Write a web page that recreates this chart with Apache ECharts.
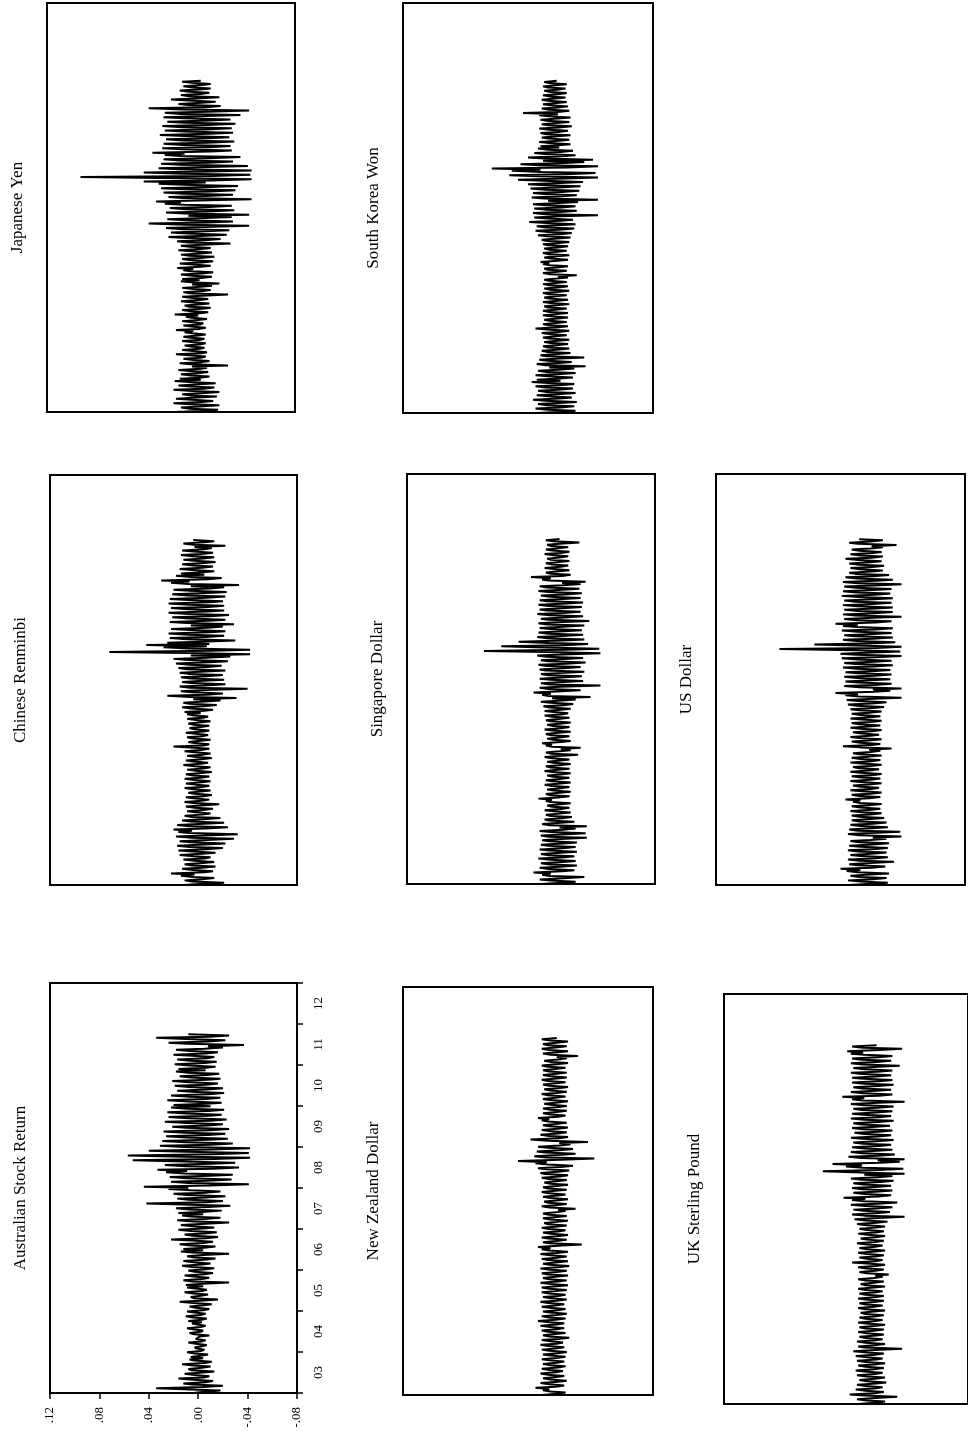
<!DOCTYPE html>
<html><head><meta charset="utf-8">
<script src="https://cdn.jsdelivr.net/npm/echarts/dist/echarts.min.js"></script>
<style>html,body{margin:0;padding:0;background:#fff}#c{width:968px;height:1437px}</style>
</head><body><div id="c"></div>
<script>
// time-axis tick labels (years) and observation span
const yearLabels = ['03','04','05','06','07','08','09','10','11','12'];
const obsStart = 2003.0;
const obsEnd = 2011.75;

// return series, start -> end
const jpy = [
.017,-.004,-.018,.005,.012,-.003,-.019,.004,.018,-.005,-.014,.003,.016,-.002,-.017,.005,.011,-.004,-.019,.003,.018,-.006,-.015,.004,.014,-.003,-.016,.005,.017,-.004,
.013,-.003,-.011,.004,.012,-.002,-.01,.005,.014,-.004,-.009,.003,-.026,.004,.013,-.005,-.011,.002,.01,-.004,-.008,.003,.016,-.004,-.009,.002,.011,-.003,-.007,.004,
.009,-.003,-.008,.002,.011,-.003,-.007,.004,.01,-.002,-.008,.003,.009,.002,.016,-.003,-.008,.002,.01,-.004,-.006,.003,.011,-.002,-.009,.003,.008,-.002,.017,-.003,
-.01,.004,.011,-.003,-.012,.005,.009,-.002,-.011,.004,.012,-.003,-.01,.004,.011,-.005,-.026,.003,.01,-.004,-.012,.002,.011,-.004,-.013,.003,-.019,.004,.012,-.003,
.011,-.004,-.013,.003,.012,-.005,-.014,.004,.01,.002,.015,-.004,-.012,.003,.013,-.005,-.014,.004,.011,-.003,-.015,.005,.012,-.004,-.013,.003,.014,-.004,-.012,.005,
.012,-.005,-.028,.006,.015,-.007,-.02,.008,.022,-.009,-.025,.007,.02,-.008,-.027,.01,.024,-.006,-.043,.009,.038,-.01,-.03,.008,.023,-.007,-.029,.006,-.043,.009,
.024,-.01,-.031,.008,.021,-.011,-.029,.009,.025,.012,.032,-.01,-.045,.011,.022,-.009,-.03,.01,.026,-.012,-.032,.009,.028,-.011,-.034,.01,.03,-.008,.042,-.012,
-.045,.012,.093,-.013,-.044,.01,.042,-.012,-.045,.014,.03,-.011,-.042,.012,.028,-.01,-.03,.013,.026,-.011,-.036,.012,.025,.009,.035,-.012,-.029,.01,.027,-.011,
-.028,.01,.026,-.009,-.031,.011,.024,-.01,-.027,.009,.029,-.011,-.03,.01,.025,-.008,-.029,.011,.027,-.01,-.032,.009,.023,-.011,-.028,.01,.026,-.009,-.036,.012,
.025,-.009,-.043,.01,.038,-.008,-.02,.006,.014,-.005,-.016,.006,.02,-.004,-.019,.005,.012,-.004,-.011,.005,.013,-.003,-.012,.004,.01,-.005,-.012,.003,.011,-.004];

const krw = [
.013,-.005,-.018,.004,.014,-.006,-.017,.005,.012,-.004,-.019,.006,.016,-.005,-.015,.004,.013,-.006,-.018,.005,.012,-.004,-.016,.006,.014,-.005,-.017,.004,.017,-.006,
.013,-.005,-.016,.004,.014,-.006,-.018,.005,.012,-.004,-.017,.003,-.026,.006,.013,-.005,-.015,.004,.011,-.006,-.025,.005,.01,-.004,-.014,.005,.009,-.003,-.013,.004,
.008,-.003,-.012,.002,.007,-.004,-.013,.003,.008,-.002,-.011,.003,.009,-.004,-.013,.002,.014,-.003,-.012,.004,.008,-.002,-.011,.003,.007,-.004,-.012,.002,.008,-.003,
-.012,.003,.008,-.002,-.011,.004,.007,-.003,-.013,.002,.008,-.004,-.012,.003,.007,-.002,-.011,.004,.008,-.003,-.013,.002,.007,-.004,-.012,.003,.008,-.002,-.011,.003,
.007,-.003,-.012,-.004,-.019,.003,.008,-.002,-.011,.004,.007,-.003,-.012,.002,.008,.003,.01,-.004,-.012,.002,.007,-.003,-.013,.004,.008,-.002,-.011,.003,.007,-.004,
-.012,.004,.008,-.005,-.013,.006,.009,-.004,-.014,.005,.012,-.006,-.015,.004,.014,-.005,-.017,.006,.013,-.004,-.018,.005,.019,-.006,-.016,.004,.015,-.005,-.036,.006,
.016,-.006,-.019,.005,.015,-.007,-.018,.006,.016,-.005,-.02,.004,-.036,.007,.017,-.006,-.019,.005,.016,-.007,-.021,.006,.018,-.005,-.022,.007,.02,-.006,-.024,.008,
.028,-.01,-.036,.012,.035,-.011,-.034,.009,.033,.01,.049,-.012,-.036,.01,.026,-.009,-.025,.008,-.032,.007,.02,-.006,-.018,.005,.015,-.006,-.016,.004,.012,-.005,
.01,-.004,-.014,.003,.011,-.005,-.013,.004,.009,-.003,-.014,.005,.01,-.004,-.012,.003,.011,-.005,-.015,.004,.009,-.003,-.013,.005,.01,-.004,-.014,.003,.011,-.004,
.024,-.004,-.013,.003,.009,-.004,-.012,.002,.008,-.003,-.011,.004,.009,-.002,-.01,.003,.008,-.004,-.011,.002,.007,-.003,-.01,.004,.008,-.002,-.011,.003,.007,-.003];

const cny = [
.012,-.004,-.021,.005,.011,-.003,-.013,.004,.014,.003,.022,-.005,-.012,.004,.013,-.003,-.014,.005,.011,-.004,-.013,.003,.012,-.005,-.01,.004,.015,-.003,-.014,.004,
.016,-.006,-.02,.007,.017,-.005,-.022,.006,.015,-.007,-.029,.005,.018,-.006,-.032,.007,.016,.005,.02,-.006,-.024,.007,.017,-.005,-.021,.006,.013,-.004,-.018,.005,
.011,-.003,-.01,.002,.009,-.004,-.012,.003,.01,-.002,-.017,.004,.011,-.003,-.009,.002,.01,-.004,-.011,.003,.008,-.002,-.01,.004,.011,-.003,-.009,.002,.01,-.003,
-.01,.003,.011,-.002,-.009,.004,.01,-.003,-.011,.002,.009,-.004,-.01,.003,.012,-.002,-.008,.004,.01,-.003,-.011,.002,.009,-.004,-.01,.003,.011,-.002,-.009,.003,
.02,-.004,-.009,.003,.008,-.002,-.01,.004,.009,-.003,-.008,.002,.01,-.004,-.009,.003,.007,-.002,-.009,.004,.008,-.003,-.01,.002,.009,-.004,-.008,.003,.009,-.002,
.011,-.005,-.012,.006,.013,-.004,-.015,.007,.012,-.005,-.018,.004,-.031,.006,.025,-.007,-.02,.005,.014,-.006,-.04,.007,.015,-.005,-.022,.006,.013,-.004,-.021,.006,
.014,-.007,-.02,.008,.015,-.006,-.022,.009,.016,-.008,-.019,.007,.018,-.009,-.024,.008,.02,-.007,-.026,.006,-.042,.009,.072,-.01,-.042,.008,.028,-.007,.042,-.009,
.025,-.008,-.03,.009,.023,-.007,-.021,.008,.024,-.009,-.022,.007,.022,-.008,-.02,.006,-.029,.009,.023,-.008,-.022,.007,.021,-.009,-.025,.008,.024,-.007,-.021,.008,
.022,-.008,-.021,.007,.024,-.009,-.02,.008,.023,-.007,-.022,.009,.021,-.008,-.023,.007,.02,-.009,-.021,.006,-.033,.008,.022,.007,.03,-.008,-.019,.006,.018,-.005,
.014,-.004,-.013,.005,.015,-.003,-.012,.004,.013,-.005,-.014,.003,.012,-.004,-.013,.005,.014,-.003,-.012,.004,.013,-.005,-.011,.003,-.022,.004,.012,-.005,-.013,.004];

const sgd = [
.012,-.005,-.016,.004,.013,-.006,-.023,.005,.011,.004,.018,-.005,-.015,.006,.013,-.004,-.017,.005,.012,-.006,-.016,.004,.014,-.005,-.015,.006,.012,-.004,-.017,.005,
.013,-.005,-.016,.004,.012,-.006,-.017,.005,.011,-.004,-.025,.006,.012,-.005,-.024,.004,.013,-.006,-.016,-.003,-.025,.005,.011,-.004,-.015,.006,.009,-.005,-.013,.004,
.008,-.003,-.012,.002,.009,-.004,-.011,.003,.007,-.002,-.012,.004,.008,.003,.014,-.002,-.011,.004,.008,-.003,-.012,.002,.007,-.004,-.011,.003,.009,-.002,-.012,.003,
.008,-.003,-.011,.002,.007,-.004,-.012,.003,.009,-.002,-.011,.004,.008,-.003,-.012,.002,.007,-.004,-.011,.003,.009,-.002,-.018,.004,.008,-.003,-.012,-.004,-.02,.003,
.008,.003,.011,-.004,-.012,.002,.007,-.003,-.011,.004,.008,-.002,-.012,.003,.009,-.004,-.011,.002,.007,-.003,-.012,.004,.008,-.002,-.011,.003,.009,-.004,-.01,.002,
.009,-.004,-.012,.005,.01,-.006,-.014,.004,.012,-.005,-.016,.003,-.028,.006,.011,.004,.018,-.005,-.02,.006,.013,-.004,-.036,.005,.012,-.006,-.022,.004,.013,-.005,
-.021,.006,.012,-.007,-.023,.008,.013,-.006,-.02,.007,.014,-.008,-.024,.006,.012,-.007,-.022,.008,.015,-.006,-.036,.007,.058,-.008,-.035,.009,.044,-.007,-.026,.006,
.03,-.006,-.023,.007,.015,-.005,-.022,.006,.014,-.007,-.021,.005,.013,-.006,-.023,.007,.014,-.005,-.027,.006,.012,-.007,-.022,.005,.015,-.006,-.02,.007,.013,-.005,
-.021,.006,.014,-.005,-.022,.007,.013,-.006,-.02,.005,.012,-.007,-.021,.006,.014,-.005,-.019,.007,.013,-.006,-.02,-.005,-.024,.006,.011,.004,.02,-.005,-.012,.004,
.008,-.003,-.011,.002,.009,-.004,-.01,.003,.008,-.002,-.011,.004,.007,-.003,-.01,.002,.009,-.004,-.011,.003,.008,-.002,-.01,.004,.007,-.003,-.019,.002,.008,-.003];

const usd = [
.013,-.005,-.018,.004,.014,-.006,-.017,.005,.012,-.004,-.019,.006,.015,.004,.02,-.005,-.016,.006,.013,-.004,-.023,.005,.014,-.006,-.018,.004,.012,-.005,-.017,.006,
.014,-.005,-.018,.004,.013,-.006,-.019,.005,.012,-.004,-.017,-.006,-.029,.005,.014,-.004,-.028,.006,.013,-.005,-.018,.004,.012,-.006,-.017,.005,.011,-.004,-.015,.005,
.011,-.004,-.013,.003,.012,-.005,-.012,.004,.011,-.003,-.013,.005,.01,.004,.016,-.003,-.012,.005,.011,-.004,-.013,.003,.012,-.005,-.011,.004,.01,-.003,-.013,.004,
.012,-.004,-.012,.003,.011,-.005,-.013,.004,.012,-.003,-.011,.005,.01,-.004,-.013,.003,.012,-.005,-.012,.004,.011,-.003,-.013,.005,.01,-.004,-.012,-.003,-.021,.004,
.018,-.005,-.012,.004,.011,-.003,-.013,.005,.012,-.004,-.011,.003,.01,-.005,-.013,.004,.012,-.003,-.012,.005,.011,-.004,-.013,.003,.012,-.005,-.012,.004,.011,-.003,
-.013,.005,.012,-.006,-.015,.007,.014,-.005,-.017,.006,.015,-.007,-.029,.005,.016,.006,.024,-.007,-.02,-.006,-.029,.005,.017,-.007,-.021,.006,.016,-.005,-.02,.007,
.017,-.007,-.021,.006,.016,-.008,-.02,.007,.018,-.006,-.022,.008,.017,-.007,-.021,.006,.019,-.008,-.029,.007,.02,-.006,-.028,.008,.069,-.009,-.029,.007,.041,-.008,
-.024,.007,.018,-.006,-.022,.008,.017,-.007,-.021,.006,.019,-.008,-.022,.007,.018,.006,.024,-.008,-.021,.007,.017,-.006,-.029,.008,.018,-.007,-.022,.006,.017,-.008,
-.022,.007,.018,-.006,-.021,.008,.017,-.007,-.022,.006,.019,-.008,-.02,.007,.018,-.006,-.021,.008,.017,-.007,-.029,.006,.018,-.008,-.022,.007,.016,-.006,-.019,.007,
.013,-.005,-.014,.004,.012,-.006,-.015,.005,.013,-.004,-.013,.006,.016,-.005,-.014,.004,.012,-.006,-.013,.005,.011,-.004,-.014,-.005,-.025,.006,.013,-.004,-.014,.005];

const ausStock = [
.004,-.005,-.018,.006,.034,-.004,-.02,.005,.012,-.006,-.012,.004,.016,-.005,-.009,.003,.011,-.004,-.013,.005,.008,-.003,-.01,.004,.013,-.005,-.011,.003,.007,-.004,
.006,-.002,-.008,.003,.009,-.002,-.005,.001,.003,-.003,-.007,.002,.008,-.003,-.006,.002,.002,-.001,-.009,.003,.007,-.002,-.004,.003,.009,-.002,-.006,.001,.005,-.003,
.008,-.003,-.007,.004,.01,-.002,-.006,.003,.009,-.004,-.009,.002,.007,-.003,-.011,.004,.015,-.005,-.016,.003,.006,-.002,-.008,.004,.011,-.003,-.007,.002,.009,-.004,
.01,-.004,-.025,.005,.012,-.003,-.009,.004,.011,-.005,-.012,.003,.008,-.004,-.013,.005,.013,-.003,-.01,.004,.012,-.005,-.014,.003,.009,-.004,-.025,.005,.014,-.004,
.012,-.005,-.014,.006,.015,-.004,-.012,.005,.022,-.006,-.016,.004,.011,-.005,-.015,.006,.016,-.004,-.013,.005,.014,-.006,-.025,.004,.017,-.005,-.018,.006,.013,-.004,
.016,-.006,-.019,.007,.018,-.008,-.026,.006,.042,-.007,-.02,.008,.017,-.006,-.022,.009,.02,-.007,-.018,.006,.024,.008,.044,-.009,-.041,.008,.022,-.007,-.027,.009,
.023,-.01,-.028,.011,.026,.009,.033,-.012,-.033,.01,.027,-.011,-.03,.012,.053,-.013,-.042,.011,.057,-.012,-.041,.01,.04,-.011,-.042,.012,.031,-.01,-.028,.011,
.029,-.009,-.024,.01,.026,-.008,-.022,.011,.028,-.009,-.025,.01,.021,-.008,-.02,.009,.027,-.01,-.023,.008,.024,-.009,-.019,.01,.025,-.008,-.021,.009,.022,-.01,
.02,-.007,-.019,.008,.025,-.006,-.018,.007,.022,-.008,-.021,.006,.017,-.007,-.02,.008,.019,-.006,-.016,.007,.021,-.008,-.018,.006,.015,-.007,-.017,.008,.018,-.006,
.016,-.006,-.014,.007,.019,-.005,-.015,.006,.017,-.007,-.013,.005,.02,-.006,-.016,.007,.018,-.005,-.02,-.008,-.037,.009,.024,-.008,-.022,.01,.034,-.009,-.025,.008];

const nzd = [
.009,-.003,-.01,.002,.008,.003,.014,-.002,-.009,.003,.01,-.004,-.011,.002,.008,-.003,-.009,.004,.01,-.002,-.008,.003,.009,-.004,-.01,.002,.008,-.003,-.009,.003,
.009,-.003,-.01,.002,.008,-.004,-.011,.003,.009,-.002,-.009,.004,.01,-.003,-.008,.002,.009,-.004,-.013,.003,.008,-.002,-.01,.004,.009,-.003,-.009,.002,.01,-.003,
-.009,.003,.012,-.002,-.01,.004,.009,-.003,-.011,.002,.008,-.004,-.01,.003,.009,-.002,-.009,.004,.01,-.003,-.011,.002,.008,-.004,-.01,.003,.009,-.002,-.011,.003,
.009,-.003,-.012,.002,.01,-.004,-.011,.003,.008,-.002,-.012,.004,.009,-.003,-.011,.002,.01,-.004,-.013,.003,.008,-.002,-.012,.004,.009,-.003,-.011,.002,.01,-.003,
-.012,.003,.009,.002,.012,-.004,-.023,.003,.008,-.002,-.011,.004,.009,-.003,-.012,.002,.008,-.004,-.01,.003,.009,-.002,-.011,.004,.007,-.003,-.012,.002,.008,-.003,
-.011,.003,.008,-.002,-.01,-.004,-.018,.003,.009,-.002,-.011,.004,.007,-.003,-.012,.002,.008,-.004,-.01,.003,.009,-.002,-.011,.004,.008,-.003,-.012,.002,.007,-.003,
-.011,.004,.009,-.005,-.012,.006,.01,-.004,-.013,.005,.012,-.006,-.016,.004,.014,.005,.028,-.006,-.033,.005,.015,-.004,-.018,.006,.013,-.005,-.016,.004,.012,-.005,
-.014,-.005,-.028,.004,.018,-.005,-.012,.003,.01,-.004,-.011,.003,.009,-.004,-.012,.003,.008,-.002,-.011,.004,.009,.003,.012,-.004,-.01,.002,.008,-.003,-.011,.003,
.008,-.003,-.011,.002,.007,-.004,-.012,.003,.008,-.002,-.01,.004,.009,-.003,-.011,.002,.007,-.004,-.012,.003,.008,-.002,-.01,.004,.009,-.003,-.011,.002,.008,-.003,
-.011,.003,.008,-.002,-.01,.004,.009,-.003,-.012,.002,.007,-.004,-.011,-.003,-.02,.002,.008,-.004,-.012,.003,.009,-.002,-.011,.004,.008,-.003,-.012,.002,.009,-.003];

const gbp = [
.01,-.004,-.012,.003,.011,-.004,-.022,.005,.017,-.003,-.011,.004,.012,-.003,-.01,.004,.011,-.005,-.013,.003,.009,-.004,-.012,.003,.011,-.004,-.01,.005,.012,-.003,
-.011,.004,.01,-.003,-.012,.004,.011,-.005,-.01,.003,.012,-.004,-.011,.003,.014,-.004,-.026,.005,.01,-.003,-.012,.004,.011,-.003,-.01,.004,.009,-.005,-.011,.003,
.01,-.003,-.011,.004,.009,-.003,-.012,.004,.01,-.003,-.01,.004,.009,-.003,-.011,.004,.008,-.003,-.012,.004,.01,-.003,-.01,.004,.009,-.003,-.011,.004,.01,-.003,
-.011,.004,.009,-.003,-.01,.004,.01,-.003,-.012,.004,.008,-.003,-.011,.004,.01,-.003,-.01,-.004,-.015,.003,.009,-.004,-.011,.003,.01,-.004,-.012,.003,.015,-.004,
-.01,.003,.009,-.004,-.011,.003,.01,-.004,-.012,.003,.009,-.004,-.01,.003,.011,-.004,-.011,.003,.008,-.004,-.012,.003,.01,-.004,-.011,.003,.009,-.004,-.012,.003,
.011,-.005,-.014,.004,.013,-.006,-.028,.005,.015,-.004,-.016,.006,.014,-.005,-.018,.004,.016,-.006,-.022,.005,.015,.004,.022,-.006,-.017,.005,.014,-.004,-.018,.006,
.015,-.007,-.017,.006,.014,-.008,-.019,.007,.016,-.006,-.018,.005,-.028,.008,.039,-.007,-.027,.006,.02,.007,.031,-.008,-.024,-.006,-.028,.007,.018,-.006,-.02,.007,
.016,-.006,-.018,.005,.015,-.007,-.017,.006,.014,-.005,-.019,.007,.016,-.006,-.017,.005,.013,-.007,-.018,.006,.015,-.005,-.016,.007,.014,-.006,-.019,.005,.016,-.007,
-.017,.006,.015,-.005,-.018,.007,.014,-.006,-.019,.005,.016,-.007,-.028,.006,.015,.005,.023,-.007,-.018,.006,.016,-.005,-.017,.007,.014,-.006,-.019,.005,.015,-.007,
-.018,.006,.015,-.005,-.017,.007,.016,-.006,-.018,.005,.014,-.007,-.024,.006,.016,-.005,-.017,.007,.015,-.006,-.018,.005,.016,.006,.019,-.007,-.026,.006,.015,-.005];

// layout of the eight panels (page is rotated: values run right-to-left, time bottom-to-top)
const panels = [
  {name:'Japanese Yen', data:jpy, left:47, top:3, width:248, height:409, tmax:2013.8},
  {name:'South Korea Won', data:krw, left:403, top:3, width:250, height:410, tmax:2013.8},
  {name:'Chinese Renminbi', data:cny, left:50, top:475, width:247, height:410, tmax:2013.4},
  {name:'Singapore Dollar', data:sgd, left:407, top:474, width:248, height:410, tmax:2013.4},
  {name:'US Dollar', data:usd, left:716, top:474, width:249, height:411, tmax:2013.4},
  {name:'Australian Stock Return', data:ausStock, left:50, top:983, width:247, height:410, tmax:2013.0, axes:true},
  {name:'New Zealand Dollar', data:nzd, left:403, top:987, width:250, height:408, tmax:2013.0},
  {name:'UK Sterling Pound', data:gbp, left:724, top:994, width:248, height:410, tmax:2013.0}
];

const fmt = v => (v < -1e-9 ? '-' : '') + Math.abs(v).toFixed(2).replace(/^0/, '');
const serif = 'Liberation Serif';

const grid = panels.map(p => ({left:p.left, top:p.top, width:p.width, height:p.height,
  show:true, borderColor:'#000', borderWidth:2, backgroundColor:'transparent'}));

const xAxis = panels.map((p, i) => ({
  gridIndex:i, type:'value', min:-0.08, max:0.12, interval:0.04, inverse:true,
  show:!!p.axes, position:'bottom',
  axisLine:{show:false},
  axisTick:{show:true, inside:false, length:6, lineStyle:{color:'#000', width:1.5}},
  axisLabel:{rotate:90, color:'#000', fontFamily:serif, fontSize:13, margin:14, formatter:fmt},
  splitLine:{show:false}
}));

const yAxis = panels.map((p, i) => ({
  gridIndex:i, type:'value', min:obsStart, max:p.tmax, show:false
}));
const ausIdx = panels.findIndex(p => p.axes);
yAxis.push({
  gridIndex:ausIdx, type:'category', data:yearLabels, position:'right', boundaryGap:true,
  axisLine:{show:false},
  axisTick:{show:true, inside:false, length:6, lineStyle:{color:'#000', width:1.5}},
  axisLabel:{rotate:90, color:'#000', fontFamily:serif, fontSize:13, margin:15},
  splitLine:{show:false}
});

const series = panels.map((p, i) => ({
  type:'line', xAxisIndex:i, yAxisIndex:i, symbol:'none', silent:true,
  lineStyle:{color:'#000', width:2, join:'bevel'},
  data:p.data.map((v, k) => [v, obsStart + k * (obsEnd - obsStart) / (p.data.length - 1)])
}));

const graphic = panels.map(p => ({
  type:'text', x:p.left - 29, y:p.top + p.height / 2, rotation:Math.PI / 2,
  style:{text:p.name, font:'17px "Liberation Serif"', fill:'#000',
    textAlign:'center', textVerticalAlign:'middle', align:'center', verticalAlign:'middle'}
}));

const chart = echarts.init(document.getElementById('c'), null, {renderer:'canvas'});
chart.setOption({animation:false, backgroundColor:'#fff', grid, xAxis, yAxis, series, graphic});
</script>
</body></html>
